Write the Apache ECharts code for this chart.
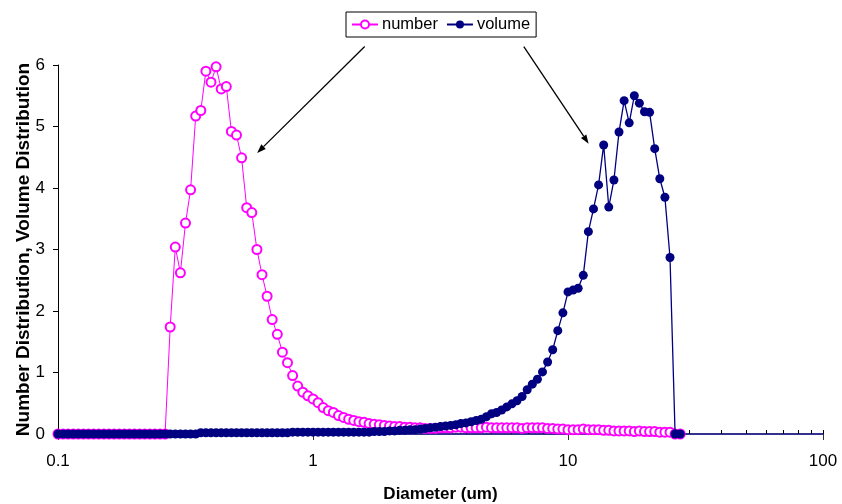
<!DOCTYPE html>
<html>
<head>
<meta charset="utf-8">
<script src="https://cdn.jsdelivr.net/npm/echarts@6/dist/echarts.min.js"></script>
<style>
  html, body { margin: 0; padding: 0; background: #fff; }
  #chart { width: 842px; height: 504px; }
</style>
</head>
<body>
<div id="chart"></div>
<script>
// Particle diameters (um), log-spaced at 50 bins per decade
const diameters = [
  0.1000,0.1047,0.1096,0.1148,0.1202,0.1259,0.1318,0.1380,0.1445,0.1514,
  0.1585,0.1660,0.1738,0.1820,0.1905,0.1995,0.2089,0.2188,0.2291,0.2399,
  0.2512,0.2630,0.2754,0.2884,0.3020,0.3162,0.3311,0.3467,0.3631,0.3802,
  0.3981,0.4169,0.4365,0.4571,0.4786,0.5012,0.5248,0.5495,0.5754,0.6026,
  0.6310,0.6607,0.6918,0.7244,0.7586,0.7943,0.8318,0.8710,0.9120,0.9550,
  1.000,1.047,1.096,1.148,1.202,1.259,1.318,1.380,1.445,1.514,
  1.585,1.660,1.738,1.820,1.905,1.995,2.089,2.188,2.291,2.399,
  2.512,2.630,2.754,2.884,3.020,3.162,3.311,3.467,3.631,3.802,
  3.981,4.169,4.365,4.571,4.786,5.012,5.248,5.495,5.754,6.026,
  6.310,6.607,6.918,7.244,7.586,7.943,8.318,8.710,9.120,9.550,
  10.00,10.47,10.96,11.48,12.02,12.59,13.18,13.80,14.45,15.14,
  15.85,16.60,17.38,18.20,19.05,19.95,20.89,21.88,22.91,23.99,
  25.12,26.30,27.54
];

// Number distribution (%)
const numberDist = [
  0,0,0,0,0,0,0,0,0,0,
  0,0,0,0,0,0,0,0,0,0,
  0,0,1.74,3.04,2.62,3.43,3.97,5.17,5.26,5.90,
  5.72,5.97,5.61,5.65,4.92,4.86,4.49,3.68,3.60,3.00,
  2.59,2.24,1.86,1.62,1.33,1.16,0.95,0.78,0.68,0.62,
  0.57,0.51,0.43,0.38,0.35,0.30,0.27,0.24,0.22,0.20,
  0.19,0.17,0.16,0.15,0.14,0.13,0.12,0.12,0.11,0.11,
  0.10,0.10,0.09,0.09,0.09,0.10,0.10,0.10,0.11,0.11,
  0.10,0.10,0.10,0.10,0.11,0.10,0.10,0.10,0.10,0.10,
  0.10,0.09,0.10,0.10,0.10,0.10,0.09,0.09,0.08,0.08,
  0.07,0.07,0.07,0.08,0.07,0.07,0.07,0.06,0.06,0.05,
  0.05,0.05,0.05,0.04,0.05,0.04,0.04,0.04,0.03,0.03,
  0.03,0,0
];

// Volume distribution (%)
const volumeDist = [
  0,0,0,0,0,0,0,0,0,0,
  0,0,0,0,0,0,0,0,0,0,
  0,0,0,0,0,0,0,0,0.02,0.02,
  0.02,0.02,0.02,0.02,0.02,0.02,0.02,0.02,0.02,0.02,
  0.02,0.02,0.02,0.02,0.02,0.02,0.03,0.03,0.03,0.03,
  0.03,0.03,0.03,0.03,0.03,0.03,0.03,0.03,0.03,0.03,
  0.03,0.03,0.04,0.04,0.04,0.05,0.05,0.06,0.06,0.07,
  0.07,0.08,0.09,0.10,0.11,0.12,0.13,0.14,0.15,0.17,
  0.18,0.20,0.22,0.24,0.28,0.33,0.35,0.39,0.44,0.49,
  0.54,0.61,0.72,0.81,0.89,1.01,1.17,1.37,1.68,1.97,
  2.31,2.34,2.37,2.58,3.29,3.66,4.05,4.70,3.69,4.13,
  4.91,5.42,5.06,5.50,5.38,5.24,5.23,4.64,4.15,3.85,
  2.87,0,0
];

const seriesNames = ['number', 'volume'];
const xTickValues = [0.1, 1, 10, 100];
const xMinorTickValues = [
  0.2,0.3,0.4,0.5,0.6,0.7,0.8,0.9,
  2,3,4,5,6,7,8,9,
  20,30,40,50,60,70,80,90
];

// Arrows from the legend to each curve: [start, tip] in data units
const arrowPairs = [
  [[1.595, 6.30], [0.604, 4.57]],
  [[6.71, 6.30], [12.05, 4.72]]
];

const FONT = '"Liberation Sans", Arial, sans-serif';
const NUMBER_COLOR = '#ff00ff';
const VOLUME_COLOR = '#000080';

const chart = echarts.init(document.getElementById('chart'), null, { renderer: 'canvas' });

const toPairs = (ys) => diameters.map((d, i) => [d, ys[i]]);

const option = {
  animation: false,
  backgroundColor: '#ffffff',
  textStyle: { fontFamily: FONT, color: '#000' },
  grid: { left: 58, right: 19, top: 65, bottom: 70, containLabel: false, outerBoundsMode: 'none' },
  legend: {
    data: seriesNames,
    left: 346,
    top: 12,
    padding: [4, 6, 4, 5],
    itemGap: 8,
    itemWidth: 26,
    itemHeight: 10,
    borderColor: '#000',
    borderWidth: 1,
    backgroundColor: '#fff',
    textStyle: { fontFamily: FONT, fontSize: 16.5, color: '#000', padding: [0, 0, 0, -1] }
  },
  xAxis: [
    {
      type: 'log',
      logBase: 10,
      min: 0.1,
      max: 100,
      name: 'Diameter (um)',
      nameLocation: 'middle',
      nameGap: 52,
      nameMoveOverlap: false,
      nameTextStyle: { fontFamily: FONT, fontSize: 17, fontWeight: 'bold', color: '#000' },
      axisLine: { show: true, onZero: false, lineStyle: { color: '#33338f', width: 2 } },
      axisTick: { show: true, inside: false, length: 6, lineStyle: { color: '#333', width: 1 },
                  customValues: xTickValues },
      axisLabel: { show: true, margin: 19, fontFamily: FONT, fontSize: 17, color: '#000',
                   customValues: xTickValues,
                   formatter: (v) => String(+v) },
      splitLine: { show: false },
      minorTick: { show: false }
    },
    {
      type: 'log',
      logBase: 10,
      min: 0.1,
      max: 100,
      position: 'bottom',
      axisLine: { show: false },
      axisTick: { show: true, inside: true, length: 4, lineStyle: { color: '#000', width: 1 },
                  customValues: xMinorTickValues.concat(xTickValues) },
      axisLabel: { show: false },
      splitLine: { show: false }
    }
  ],
  yAxis: {
    type: 'value',
    min: 0,
    max: 6,
    interval: 1,
    name: 'Number Distribution, Volume Distribution',
    nameLocation: 'middle',
    nameGap: 25,
    nameMoveOverlap: false,
    nameTextStyle: { fontFamily: FONT, fontSize: 19, fontWeight: 'bold', color: '#000' },
    axisLine: { show: true, lineStyle: { color: '#000', width: 1 } },
    axisTick: { show: true, inside: false, length: 5, lineStyle: { color: '#000' } },
    axisLabel: { margin: 13, fontFamily: FONT, fontSize: 17, color: '#000' },
    splitLine: { show: false }
  },
  series: [
    {
      name: seriesNames[0],
      type: 'line',
      data: toPairs(numberDist),
      symbol: 'emptyCircle',
      symbolSize: 9,
      showAllSymbol: true,
      color: NUMBER_COLOR,
      lineStyle: { color: NUMBER_COLOR, width: 1 },
      itemStyle: { color: NUMBER_COLOR, borderWidth: 1 },
      z: 2
    },
    {
      name: seriesNames[1],
      type: 'line',
      data: toPairs(volumeDist),
      symbol: 'circle',
      symbolSize: 9,
      showAllSymbol: true,
      color: VOLUME_COLOR,
      lineStyle: { color: VOLUME_COLOR, width: 1.3 },
      itemStyle: { color: VOLUME_COLOR },
      z: 3
    }
  ]
};

chart.setOption(option);

// Annotation arrows, placed through the axes' own coordinate mapping
function arrowGraphics() {
  const els = [];
  arrowPairs.forEach(([from, to]) => {
    const p0 = chart.convertToPixel({ xAxisIndex: 0, yAxisIndex: 0 }, from);
    const p1 = chart.convertToPixel({ xAxisIndex: 0, yAxisIndex: 0 }, to);
    const ang = Math.atan2(p1[1] - p0[1], p1[0] - p0[0]);
    const headLen = 9, headHalf = 3.2;
    const bx = p1[0] - headLen * Math.cos(ang);
    const by = p1[1] - headLen * Math.sin(ang);
    const nx = -Math.sin(ang), ny = Math.cos(ang);
    els.push({
      type: 'line',
      shape: { x1: p0[0], y1: p0[1], x2: bx, y2: by },
      style: { stroke: '#000', lineWidth: 1.3 },
      z: 10
    });
    els.push({
      type: 'polygon',
      shape: { points: [[p1[0], p1[1]], [bx + nx * headHalf, by + ny * headHalf], [bx - nx * headHalf, by - ny * headHalf]] },
      style: { fill: '#000' },
      z: 10
    });
  });
  return els;
}

chart.setOption({ graphic: arrowGraphics() });
</script>
</body>
</html>
